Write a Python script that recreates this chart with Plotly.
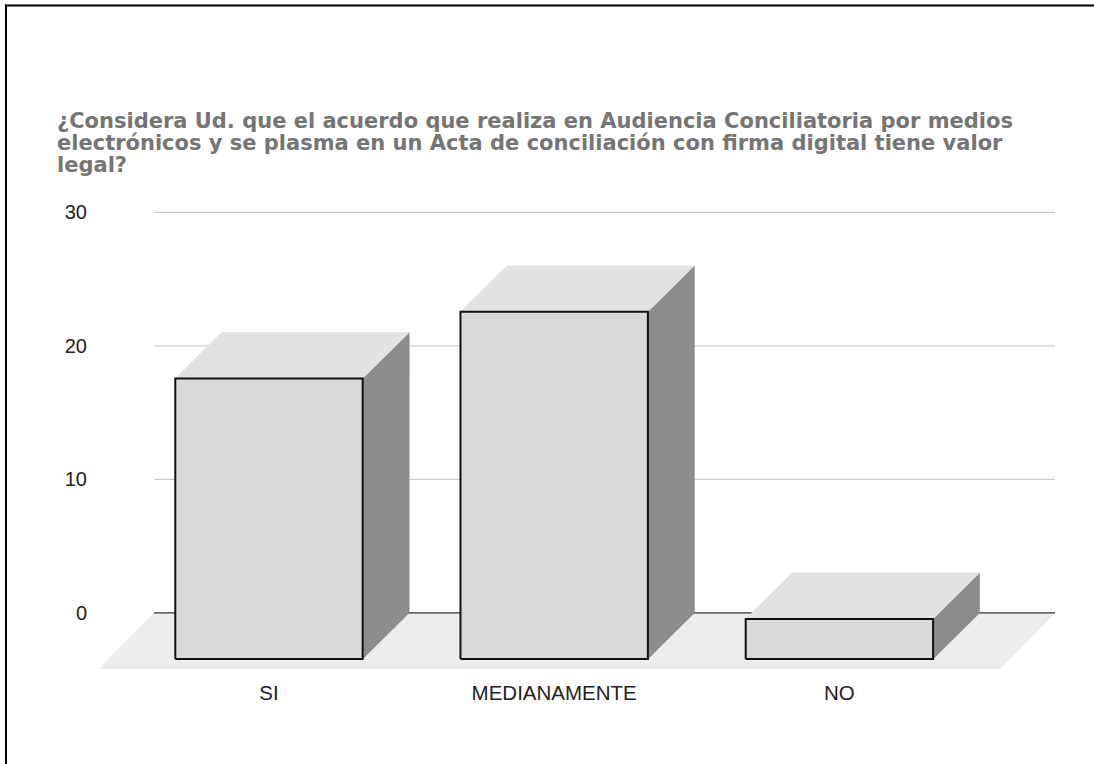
import plotly.graph_objects as go

# ---- data -------------------------------------------------------------
categories = ["SI", "MEDIANAMENTE", "NO"]
responses = [21, 26, 3]
y_ticks = [0, 10, 20, 30]
title_lines = [
    "¿Considera Ud. que el acuerdo que realiza en Audiencia Conciliatoria por medios",
    "electrónicos y se plasma en un Acta de conciliación con firma digital tiene valor",
    "legal?",
]

# ---- page / plot frame (pixels) ---------------------------------------
W, H = 1094, 764
M_L, M_R, M_T, M_B = 99, 39, 199.3, 95
PLOT_W = W - M_L - M_R
PLOT_H = H - M_T - M_B

# ---- 3-D look (in axis units) -----------------------------------------
BAR_HALF = 0.3285      # half width of a bar's front face
BAR_DX, BAR_DY = 0.163, 3.447      # depth offset of the bar boxes
FLOOR_DX, FLOOR_DY = 0.193, 4.2    # depth of the floor slab
FLOOR_LEFT = -0.403                # floor back edge, left of first bar
FLOOR_RIGHT_PAD = 0.756            # floor back edge, right of last bar

X_RANGE = [FLOOR_LEFT - FLOOR_DX, len(categories) - 1 + FLOOR_RIGHT_PAD]
Y_RANGE = [-FLOOR_DY, 31]

FRONT = "#d9d9d9"
TOP = "#e2e2e2"
SIDE = "#8c8c8c"
FLOOR = "#ededed"
GRID = "#cccccc"
BASE = "#333333"
FONT = "Liberation Sans, Arial, sans-serif"
TITLE_FONT = "DejaVu Sans, Verdana, sans-serif"

fig = go.Figure()


def poly(xs, ys, fill, line_color=None, line_width=0.6):
    fig.add_trace(go.Scatter(
        x=list(xs) + [xs[0]], y=list(ys) + [ys[0]],
        mode="lines", fill="toself", fillcolor=fill,
        line=dict(color=line_color or fill, width=line_width),
        hoverinfo="skip", showlegend=False,
    ))


# floor slab
x_bl = FLOOR_LEFT
x_br = len(categories) - 1 + FLOOR_RIGHT_PAD
poly([x_bl - FLOOR_DX, x_br - FLOOR_DX, x_br, x_bl],
     [-FLOOR_DY, -FLOOR_DY, 0, 0], FLOOR)

# gridlines on the back wall
for t in y_ticks:
    fig.add_trace(go.Scatter(
        x=[x_bl, x_br], y=[t, t], mode="lines",
        line=dict(color=BASE if t == 0 else GRID, width=1.3),
        hoverinfo="skip", showlegend=False,
    ))

# bars: side, top, then outlined front face
for i, v in enumerate(responses):
    l, r = i - BAR_HALF, i + BAR_HALF
    poly([r, r + BAR_DX, r + BAR_DX, r],
         [-BAR_DY, 0, v, v - BAR_DY], SIDE)
    poly([l, r, r + BAR_DX, l + BAR_DX],
         [v - BAR_DY, v - BAR_DY, v, v], TOP)
    poly([l, r, r, l],
         [-BAR_DY, -BAR_DY, v - BAR_DY, v - BAR_DY], FRONT,
         line_color="#111111", line_width=2)

# title, one line per annotation for tight leading
for k, line in enumerate(title_lines):
    fig.add_annotation(
        text=line, xref="paper", yref="paper",
        x=(55 - M_L) / PLOT_W, xanchor="left",
        y=(H - M_B - (121 + 22 * k)) / PLOT_H, yanchor="middle",
        showarrow=False, align="left",
        font=dict(family=TITLE_FONT, size=21, color="#757575", weight="bold"),
    )

# frame lines along the left and top edges
fig.add_shape(type="line", xref="paper", yref="paper",
              x0=(6 - M_L) / PLOT_W, x1=(6 - M_L) / PLOT_W,
              y0=(H - M_B - 5) / PLOT_H, y1=(H - M_B - H) / PLOT_H,
              line=dict(color="#000000", width=2))
fig.add_shape(type="line", xref="paper", yref="paper",
              x0=(5 - M_L) / PLOT_W, x1=(W - M_L) / PLOT_W,
              y0=(H - M_B - 6) / PLOT_H, y1=(H - M_B - 6) / PLOT_H,
              line=dict(color="#000000", width=2))

fig.update_layout(
    width=W, height=H,
    margin=dict(l=M_L, r=M_R, t=M_T, b=M_B, pad=0),
    paper_bgcolor="white", plot_bgcolor="white",
    showlegend=False,
    xaxis=dict(
        range=X_RANGE, showgrid=False, zeroline=False, showline=False,
        tickmode="array", tickvals=list(range(len(categories))),
        ticktext=categories, ticks="", ticklabelstandoff=9,
        tickfont=dict(family=FONT, size=20.5, color="#222222"),
        fixedrange=True,
    ),
    yaxis=dict(
        range=Y_RANGE, showgrid=False, zeroline=False, showline=False,
        tickmode="array", tickvals=y_ticks, ticks="",
        ticklabelstandoff=11,
        tickfont=dict(family=FONT, size=20, color="#222222"),
        fixedrange=True,
    ),
)

fig.write_html("out.html", config={"displayModeBar": False})
